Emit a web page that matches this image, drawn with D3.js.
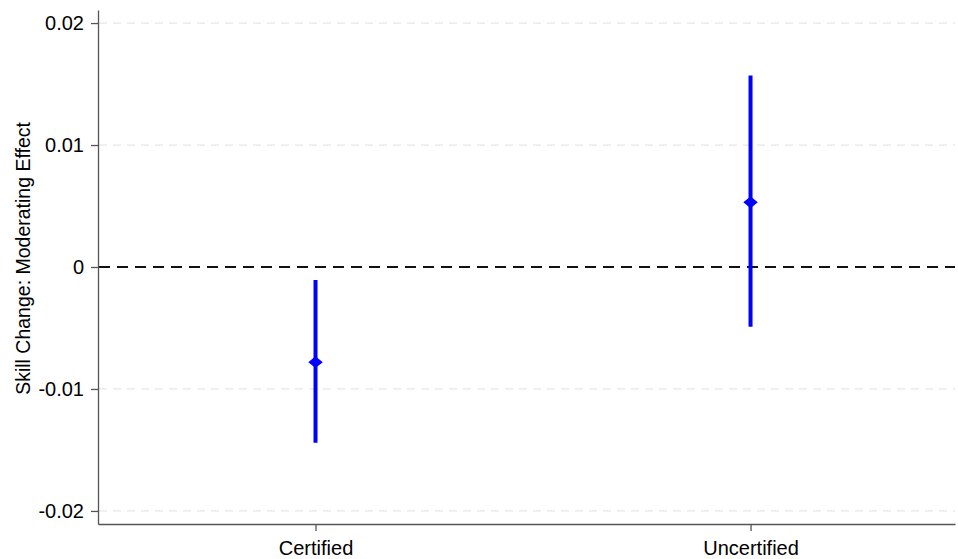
<!DOCTYPE html>
<html>
<head>
<meta charset="utf-8">
<script src="https://cdn.jsdelivr.net/npm/d3@7"></script>
<style>
  body { margin: 0; background: #fff; }
  svg { display: block; font-family: "Liberation Sans", Arial, sans-serif; }
</style>
</head>
<body>
<div id="frame"></div>
<script>
// data
let groups = ["Certified", "Uncertified"];
let estimates = [-0.0078, 0.0053];
let ciLow = [-0.0144, -0.0049];
let ciHigh = [-0.00107, 0.0157];
let yTicks = [0.02, 0.01, 0, -0.01, -0.02];
let yTickLabels = ["0.02", "0.01", "0", "-0.01", "-0.02"];

let W = 958, H = 559;
let margin = { top: 10, right: 3, bottom: 35, left: 98 };

let svg = d3.select("#frame").append("svg")
    .attr("width", W)
    .attr("height", H);

let x = d3.scaleLinear()
    .domain([0.5, 2.47])
    .range([margin.left, W - margin.right]);
let y = d3.scaleLinear()
    .domain([-0.02107, 0.02107])
    .range([H - margin.bottom, margin.top]);

//light gridlines
svg.append("g")
    .selectAll("line")
    .data(yTicks.filter(d => d !== 0))
    .enter()
    .append("line")
    .attr("x1", margin.left + 1)
    .attr("x2", W - margin.right)
    .attr("y1", d => y(d))
    .attr("y2", d => y(d))
    .attr("stroke", "#e6e6e6")
    .attr("stroke-width", 1.2)
    .attr("stroke-dasharray", "8,6");

//zero reference line
svg.append("line")
    .attr("x1", margin.left + 1)
    .attr("x2", W - margin.right)
    .attr("y1", y(0))
    .attr("y2", y(0))
    .attr("stroke", "#111")
    .attr("stroke-width", 2)
    .attr("stroke-dasharray", "11,7");

//y axis
let yAxis = svg.append("g")
    .attr("transform", "translate(" + margin.left + ",0)")
    .call(d3.axisLeft(y)
        .tickValues(yTicks)
        .tickFormat((d, i) => yTickLabels[i])
        .tickSize(7)
        .tickPadding(7)
        .tickSizeOuter(0));
yAxis.select(".domain").attr("stroke", "#555").attr("stroke-width", 1.3);
yAxis.selectAll(".tick line").attr("stroke", "#555").attr("stroke-width", 1.3);
yAxis.selectAll("text")
    .attr("fill", "#000")
    .style("font-size", "20px")
    .style("font-family", "'Liberation Sans', Arial, sans-serif");

//x axis
let xAxis = svg.append("g")
    .attr("transform", "translate(0," + (H - margin.bottom) + ")")
    .call(d3.axisBottom(x)
        .tickValues([1, 2])
        .tickFormat((d, i) => groups[i])
        .tickSize(7)
        .tickPadding(10)
        .tickSizeOuter(0));
xAxis.select(".domain").attr("stroke", "#555").attr("stroke-width", 1.3);
xAxis.selectAll(".tick line").attr("stroke", "#555").attr("stroke-width", 1.3);
xAxis.selectAll("text")
    .attr("fill", "#000")
    .style("font-size", "20px")
    .style("font-family", "'Liberation Sans', Arial, sans-serif");

//confidence intervals
svg.append("g")
    .selectAll("line")
    .data(groups)
    .enter()
    .append("line")
    .attr("x1", (d, i) => x(i + 1))
    .attr("x2", (d, i) => x(i + 1))
    .attr("y1", (d, i) => y(ciHigh[i]))
    .attr("y2", (d, i) => y(ciLow[i]))
    .attr("stroke", "#0000ff")
    .attr("stroke-width", 4);

//point estimates (diamonds)
svg.append("g")
    .selectAll("path")
    .data(groups)
    .enter()
    .append("path")
    .attr("d", d3.symbol().type(d3.symbolDiamond2).size(110))
    .attr("transform", (d, i) => "translate(" + x(i + 1) + "," + y(estimates[i]) + ") scale(1.1,0.9)")
    .attr("fill", "#0000ff");

//y axis title
svg.append("text")
    .attr("transform", "translate(30," + y(0.0007) + ") rotate(-90)")
    .attr("text-anchor", "middle")
    .style("font-size", "19.5px")
    .text("Skill Change: Moderating Effect");
</script>
</body>
</html>
